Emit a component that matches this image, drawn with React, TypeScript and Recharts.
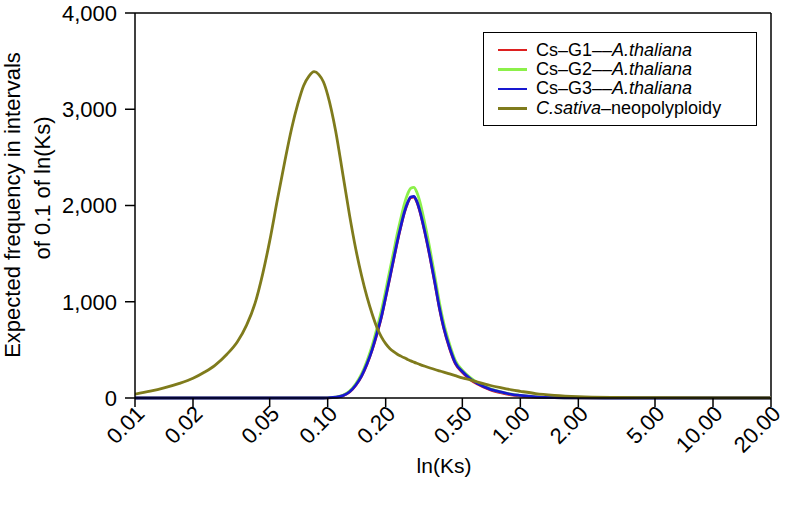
import React from "react";
import { LineChart, Line, XAxis, YAxis, ReferenceLine } from "recharts";

// Ks values (x positions of the read-off points)
const ks = [
  0.01, 0.012, 0.014, 0.017, 0.02, 0.023, 0.026, 0.03, 0.034, 0.038, 0.042, 0.046,
  0.05, 0.055, 0.06, 0.065, 0.07, 0.075, 0.08, 0.085, 0.09, 0.095,
  0.1, 0.11, 0.12, 0.13, 0.14, 0.15, 0.16, 0.17, 0.18, 0.19,
  0.2, 0.21, 0.22, 0.23, 0.24, 0.25, 0.26, 0.27, 0.28, 0.29,
  0.3, 0.32, 0.34, 0.36, 0.38, 0.4, 0.43, 0.46,
  0.5, 0.55, 0.6, 0.7, 0.8, 0.9, 1, 1.2, 1.5, 2, 3, 5, 10, 20,
];

const sativa = [
  41, 72, 103, 152, 205, 270, 340, 455, 585, 760, 985, 1290,
  1630, 2075, 2465, 2800, 3055, 3245, 3345, 3390, 3360, 3285,
  3150, 2775, 2320, 1895, 1545, 1270, 1050, 875, 735, 635,
  565, 515, 481, 455, 435, 417, 401, 386, 373, 361,
  350, 330, 312, 296, 282, 269, 250, 232,
  210, 188, 166, 130, 105, 85, 70, 46, 28, 14, 6, 3, 2, 1,
];

const g1 = [
  0, 0, 0, 0, 0, 0, 0, 0, 0, 0, 0, 0,
  0, 0, 0, 0, 0, 0, 0, 0, 0, 0,
  1, 7, 24, 63, 133, 228, 352, 497, 662, 840,
  1045, 1245, 1440, 1625, 1785, 1925, 2025, 2082, 2088, 2040,
  1950, 1715, 1460, 1195, 935, 730, 512, 358,
  268, 192, 145, 84, 52, 32, 20, 8, 3, 1, 0, 0, 0, 0,
];

const g2 = [
  0, 0, 0, 0, 0, 0, 0, 0, 0, 0, 0, 0,
  0, 0, 0, 0, 0, 0, 0, 0, 0, 0,
  2, 9, 28, 72, 148, 250, 385, 540, 720, 905,
  1115, 1325, 1520, 1710, 1870, 2015, 2120, 2180, 2188, 2140,
  2050, 1805, 1540, 1265, 995, 780, 555, 390,
  290, 212, 158, 95, 62, 40, 28, 12, 4, 1, 0, 0, 0, 0,
];

const g3 = [
  0, 0, 0, 0, 0, 0, 0, 0, 0, 0, 0, 0,
  0, 0, 0, 0, 0, 0, 0, 0, 0, 0,
  2, 8, 25, 65, 135, 230, 355, 500, 670, 845,
  1050, 1250, 1445, 1630, 1790, 1930, 2030, 2088, 2095, 2045,
  1955, 1720, 1465, 1200, 940, 735, 520, 365,
  275, 200, 150, 90, 60, 38, 27, 12, 4, 1, 0, 0, 0, 0,
];

const xTicks = [0.01, 0.02, 0.05, 0.1, 0.2, 0.5, 1, 2, 5, 10, 20];
const yTicks = [0, 1000, 2000, 3000, 4000];

const seriesKeys = ["g1", "g2", "g3", "sativa"];
const seriesColors = ["#dd2020", "#8cf04a", "#1818d0", "#7f7b1c"];
const legendPre = ["Cs–G1––", "Cs–G2––", "Cs–G3––", ""];
const legendItalic = ["A.thaliana", "A.thaliana", "A.thaliana", "C.sativa"];
const legendPost = ["", "", "", "–neopolyploidy"];

const data = ks.map((k, i) => ({ ks: k, g1: g1[i], g2: g2[i], g3: g3[i], sativa: sativa[i] }));

const FONT = "'Liberation Sans', Arial, Helvetica, sans-serif";

const XTick = (props: any) => {
  const { x, y, payload } = props;
  const ax = x + 11;
  const ay = y + 6;
  return (
    <text
      x={ax}
      y={ay}
      transform={`rotate(-45, ${ax}, ${ay})`}
      textAnchor="end"
      fontSize={22}
      fontFamily={FONT}
      fill="#000"
    >
      {Number(payload.value).toFixed(2)}
    </text>
  );
};

const YLabel = () => (
  <g fontFamily={FONT} fontSize={22} fill="#000">
    <text x={20} y={205} transform="rotate(-90, 20, 205)" textAnchor="middle">
      Expected frequency in intervals
    </text>
    <text x={50} y={188} transform="rotate(-90, 50, 188)" textAnchor="middle">
      of 0.1 of ln(Ks)
    </text>
  </g>
);

const XLabel = () => (
  <text x={444} y={473} textAnchor="middle" fontFamily={FONT} fontSize={21} fill="#000">
    ln(Ks)
  </text>
);

const cell = { display: "inline-block", height: 19.4, lineHeight: "19.4px", verticalAlign: "top" } as const;

export default function App() {
  return (
    <div style={{ position: "absolute", left: 0, top: 0, width: 786, height: 506, background: "#fff" }}>
      <LineChart width={786} height={506} data={data} margin={{ top: 13, right: 15, bottom: 0, left: 0 }}>
        <XAxis
          dataKey="ks"
          type="number"
          scale="log"
          domain={[0.01, 20]}
          ticks={xTicks}
          interval={0}
          allowDataOverflow
          height={108}
          tick={<XTick />}
          tickSize={9}
          tickMargin={2}
          axisLine={{ stroke: "#000", strokeWidth: 1.5 }}
          tickLine={{ stroke: "#000", strokeWidth: 1.5 }}
          label={<XLabel />}
        />
        <YAxis
          type="number"
          domain={[0, 4000]}
          ticks={yTicks}
          interval={0}
          width={135}
          tickSize={10}
          tickMargin={8}
          tickFormatter={(v: number) => v.toLocaleString("en-US")}
          tick={{ fontSize: 22, fill: "#000", fontFamily: FONT }}
          axisLine={{ stroke: "#000", strokeWidth: 1.5 }}
          tickLine={{ stroke: "#000", strokeWidth: 1.5 }}
          label={<YLabel />}
        />
        <ReferenceLine y={4000} stroke="#000" strokeWidth={1.5} />
        <ReferenceLine x={20} stroke="#000" strokeWidth={1.5} />
        {seriesKeys.map((k, i) => (
          <Line
            key={k}
            type="monotone"
            dataKey={k}
            stroke={seriesColors[i]}
            strokeWidth={2.8}
            dot={false}
            isAnimationActive={false}
          />
        ))}
      </LineChart>
      <div
        style={{
          position: "absolute",
          left: 483,
          top: 32,
          width: 274,
          height: 94,
          boxSizing: "border-box",
          border: "1.5px solid #000",
          background: "#fff",
          paddingTop: 7.5,
          fontFamily: FONT,
          fontSize: 18,
          color: "#000",
        }}
      >
        {seriesKeys.map((k, i) => (
          <div key={k} style={{ display: "flex", alignItems: "center", height: 19.4, whiteSpace: "nowrap" }}>
            <div style={{ marginLeft: 14, width: 29, height: 2.5, background: seriesColors[i] }} />
            <div style={{ marginLeft: 9, height: 19.4, lineHeight: "19.4px" }}>
              {legendPre[i] && <span style={cell}>{legendPre[i]}</span>}
              <i style={cell}>{legendItalic[i]}</i>
              {legendPost[i] && <span style={cell}>{legendPost[i]}</span>}
            </div>
          </div>
        ))}
      </div>
    </div>
  );
}
